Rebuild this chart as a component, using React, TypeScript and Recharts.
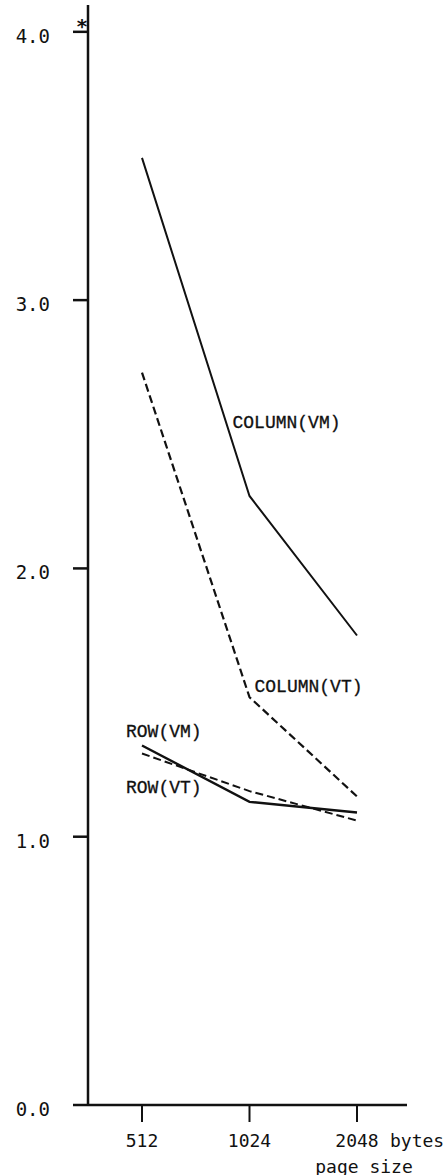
import { LineChart, Line, XAxis, YAxis } from 'recharts'

const pageSizes = ['512', '1024', '2048']
const columnVM = [3.53, 2.27, 1.75]
const columnVT = [2.73, 1.52, 1.15]
const rowVM = [1.34, 1.13, 1.09]
const rowVT = [1.31, 1.17, 1.06]
const yTicks = [0, 1, 2, 3, 4]

const data = pageSizes.map((p, i) => ({
  page: p,
  columnVM: columnVM[i],
  columnVT: columnVT[i],
  rowVM: rowVM[i],
  rowVT: rowVT[i],
}))

const axisFont = '"DejaVu Sans Mono", monospace'
const labelFont = '"Liberation Mono", "Courier New", monospace'

// draws the series name once, next to one chosen point
const seriesLabel = (text: string, index: number, dx: number, dy: number) => (props: any) => {
  if (props.index !== index) return null
  return (
    <text
      key={text}
      x={props.x + dx}
      y={props.y + dy}
      fontFamily={labelFont}
      fontSize={18}
      fill="#111"
      stroke="#111"
      strokeWidth={0.3}
      dominantBaseline="central"
    >
      {text}
    </text>
  )
}

const YTick = ({ x, y, payload }: any) => (
  <g>
    <text x={x + 2} y={y + 4} textAnchor="end" dominantBaseline="central" fontFamily={axisFont} fontSize={19} fill="#111">
      {payload.value.toFixed(1)}
    </text>
    {payload.value === 4 && (
      <text x={x + 34} y={y - 6} textAnchor="middle" dominantBaseline="central" fontFamily={axisFont} fontSize={20} fontWeight="bold" fill="#111">
        *
      </text>
    )}
  </g>
)

const XTick = ({ x, y, payload }: any) => (
  <g>
    <text x={x} y={y + 10} textAnchor="middle" dominantBaseline="central" fontFamily={axisFont} fontSize={18} fill="#111">
      {payload.value}
    </text>
    {payload.value === '2048' && (
      <>
        <text x={x + 33} y={y + 10} dominantBaseline="central" fontFamily={axisFont} fontSize={18} fill="#111">
          bytes
        </text>
        <text x={x + 7} y={y + 36} textAnchor="middle" dominantBaseline="central" fontFamily={axisFont} fontSize={18} fill="#111">
          page size
        </text>
      </>
    )}
  </g>
)

export default function App() {
  return (
    <div style={{ position: 'absolute', left: 0, top: 0, background: '#fff' }}>
      <LineChart width={448} height={1175} data={data} margin={{ top: 5, right: 41, left: 0, bottom: 0 }}>
        <XAxis
          dataKey="page"
          height={70}
          padding={{ left: 54, right: 50 }}
          axisLine={{ stroke: '#111', strokeWidth: 2.5 }}
          tickLine={{ stroke: '#111', strokeWidth: 2 }}
          tickSize={17}
          tickMargin={8}
          tick={<XTick />}
        />
        <YAxis
          type="number"
          domain={[0, 4.1]}
          ticks={yTicks}
          width={88}
          axisLine={{ stroke: '#111', strokeWidth: 2.5 }}
          tickLine={{ stroke: '#111', strokeWidth: 2.5 }}
          tickSize={15}
          tickMargin={25}
          tick={<YTick />}
        />
        <Line
          dataKey="columnVM"
          stroke="#111"
          strokeWidth={2}
          dot={false}
          isAnimationActive={false}
          label={seriesLabel('COLUMN(VM)', 1, -17, -73)}
        />
        <Line
          dataKey="columnVT"
          stroke="#111"
          strokeWidth={2.2}
          strokeDasharray="8 4"
          dot={false}
          isAnimationActive={false}
          label={seriesLabel('COLUMN(VT)', 1, 5, -10)}
        />
        <Line
          dataKey="rowVM"
          stroke="#111"
          strokeWidth={2.4}
          dot={false}
          isAnimationActive={false}
          label={seriesLabel('ROW(VM)', 0, -16, -13)}
        />
        <Line
          dataKey="rowVT"
          stroke="#111"
          strokeWidth={2}
          strokeDasharray="8 4"
          dot={false}
          isAnimationActive={false}
          label={seriesLabel('ROW(VT)', 0, -16, 34)}
        />
      </LineChart>
    </div>
  )
}
